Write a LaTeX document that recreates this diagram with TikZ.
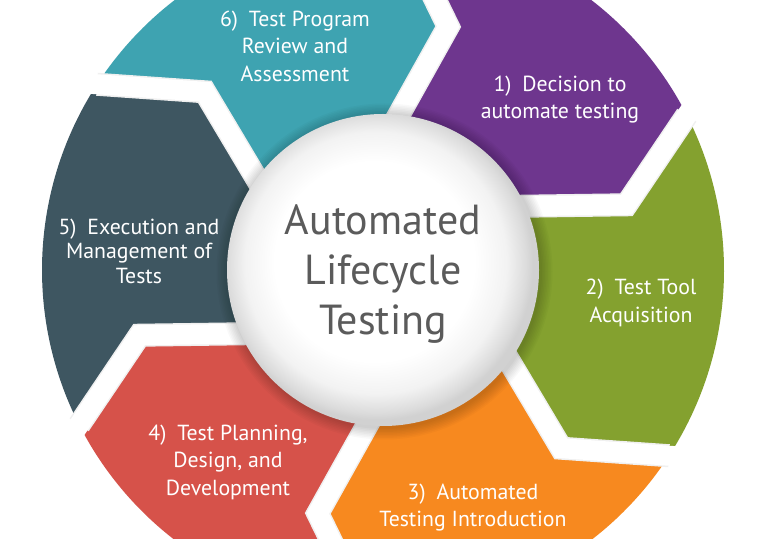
\documentclass[tikz,border=0pt]{standalone}
\usepackage{fontspec}
\setmainfont{PT Sans}
\usetikzlibrary{calc}
\definecolor{tealC}{HTML}{3EA3B1}
\definecolor{purpleC}{HTML}{6E368E}
\definecolor{greenC}{HTML}{84A12F}
\definecolor{orangeC}{HTML}{F7891F}
\definecolor{redC}{HTML}{D6524A}
\definecolor{slateC}{HTML}{3E5661}
\definecolor{textgray}{HTML}{5B5B5B}
\pgfdeclareradialshading{hubshade}{\pgfpoint{-2bp}{2bp}}{color(0bp)=(white); color(16bp)=(white); color(21bp)=(black!5); color(24bp)=(black!14); color(25bp)=(black!18); color(50bp)=(black!18)}
\begin{document}
\begin{tikzpicture}[x=1pt,y=1pt,
  segtext/.style={text=white, align=center, font=\fontsize{21.8}{27.5}\selectfont},
  gapline/.style={draw=white, line width=20pt, line join=miter},
  gapshade/.style={draw=black!6, line width=23pt, line join=miter}]
\useasboundingbox (0,0) rectangle (768,538);
\clip (0,0) rectangle (768,538);
\fill[white] (0,0) rectangle (768,538);
\begin{scope}[shift={(383,268)}]
\foreach \a/\c in {87/purpleC,27/greenC,-33/orangeC,-93/redC,-153/slateC,-213/tealC}{
  \pgfmathsetmacro{\b}{\a-60}
  \fill[\c] (\a:341) arc[start angle=\a, end angle=\b, radius=341pt] -- (\b-12:252) -- (\b:140) arc[start angle=\b, end angle=\a, radius=140pt] -- (\a-12:252) -- cycle;
}
\foreach \a in {87,27,-33,-93,-153,-213}{
  \draw[gapshade] ($(\a-12:252)!1.0!(\a:341)$) -- (\a-12:252) -- (\a:140);
  \draw[gapline] ($(\a-12:252)!1.3!(\a:341)$) -- (\a-12:252) -- (\a:140);
}
\foreach \i in {1,...,8}{
  \fill[black, opacity=0.025] (1.5,-1.5) circle[radius={156pt+\i*1.5pt}];
}
\end{scope}
\node[circle, minimum size=312pt, inner sep=0pt, shading=hubshade] (hub) at (383,268) {};
\node[segtext] (t6) at (295,492) {6)\enspace Test Program\\Review and\\Assessment};
\node[segtext] (t1) at (560,438.5) {1)\enspace Decision to\\automate testing};
\node[segtext] (t2) at (641,235) {2)\enspace Test Tool\\Acquisition};
\node[segtext] (t3) at (473,30.5) {3)\enspace Automated\\Testing Introduction};
\node[segtext] (t4) at (228,76) {4)\enspace Test Planning,\\Design, and\\Development};
\node[segtext, font=\fontsize{21.8}{24.5}\selectfont] (t5) at (139,287) {5)\enspace Execution and\\Management of\\Tests};
\node[text=textgray, align=center, font=\fontsize{42}{50}\selectfont] (title) at ([yshift=-4pt]hub.center) {Automated\\Lifecycle\\Testing};
\end{tikzpicture}
\end{document}
